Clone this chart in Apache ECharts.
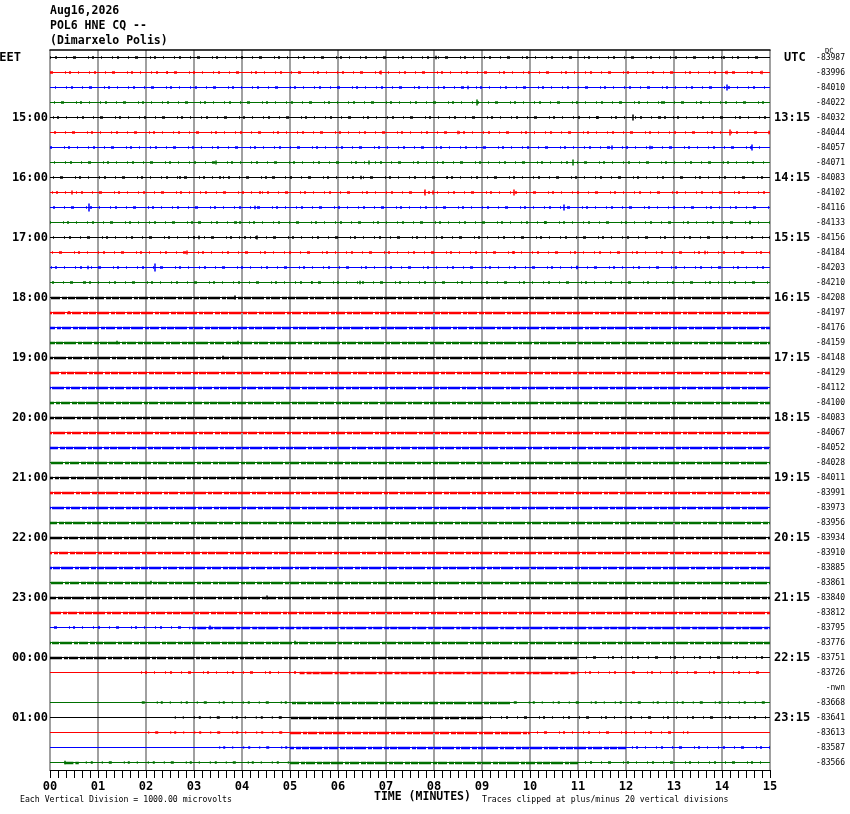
<!DOCTYPE html>
<html>
<head>
<meta charset="utf-8">
<script src="https://cdn.jsdelivr.net/npm/echarts@6/dist/echarts.min.js"></script>
<style>
  html, body { margin: 0; padding: 0; background: #ffffff; }
  #chart { width: 850px; height: 814px; }
</style>
</head>
<body>
<div id="chart"></div>
<script>
// ---------------- DATA ----------------
const headerLines = ['Aug16,2026', 'POL6 HNE CQ --', '(Dimarxelo Polis)'];
const eetLabels = ['EET', '15:00', '16:00', '17:00', '18:00', '19:00', '20:00', '21:00', '22:00', '23:00', '00:00', '01:00'];
const utcLabels = ['UTC', '13:15', '14:15', '15:15', '16:15', '17:15', '18:15', '19:15', '20:15', '21:15', '22:15', '23:15'];
const dcValues = ['-83987','-83996','-84010','-84022','-84032','-84044','-84057','-84071',
  '-84083','-84102','-84116','-84133','-84156','-84184','-84203','-84210',
  '-84208','-84197','-84176','-84159','-84148','-84129','-84112','-84100',
  '-84083','-84067','-84052','-84028','-84011','-83991','-83973','-83956',
  '-83934','-83910','-83885','-83861','-83840','-83812','-83795','-83776',
  '-83751','-83726','-nwn','-83668','-83641','-83613','-83587','-83566'];
const minuteTicks = ['00','01','02','03','04','05','06','07','08','09','10','11','12','13','14','15'];
const missingRows = [42];
// noise segments per trace: [startMinute, endMinute, level(1 sparse, 2 dense)]
const noiseSegments = [
  [[0,15,1]], [[0,15,1]], [[0,15,1]], [[0,15,1]],
  [[0,15,1]], [[0,15,1]], [[0,15,1]], [[0,15,1]],
  [[0,15,1]], [[0,15,1]], [[0,15,1]], [[0,15,1]],
  [[0,15,1]], [[0,15,1]], [[0,15,1]], [[0,15,1]],
  [[0,15,2]], [[0,15,2]], [[0,15,2]], [[0,15,2]],
  [[0,15,2]], [[0,15,2]], [[0,15,2]], [[0,15,2]],
  [[0,15,2]], [[0,15,2]], [[0,15,2]], [[0,15,2]],
  [[0,15,2]], [[0,15,2]], [[0,15,2]], [[0,15,2]],
  [[0,15,2]], [[0,15,2]], [[0,15,2]], [[0,15,2]],
  [[0,15,2]], [[0,15,2]], [[0,2.9,1],[2.9,15,2]], [[0,15,2]],
  [[0,11,2],[11,15,1]], [[1.75,5.2,1],[5.2,11,2],[11,15,1]], [], [[1.85,5,1],[5,9.6,2],[9.6,15,1]],
  [[2.6,5,1],[5,9,2],[9,15,1]], [[1.9,5,1],[5,10,2],[10,13.3,1]], [[3.4,5,1],[5,12,2],[12,15,1]], [[0.3,0.6,2],[0.6,5,1],[5,11,2],[11,15,1]]
];
// visible spikes: [row, minute, amplitude (fraction of trace spacing)]
const traceSpikes = [
  [0,8.03,0.12],[0,14.04,0.1],
  [1,2.43,0.1],[1,6.89,0.14],[1,14.1,0.12],[1,14.83,0.12],
  [2,8.70,0.12],[2,14.1,0.2],
  [3,8.90,0.2],[3,12.74,0.1],
  [4,11.4,0.1],[4,12.14,0.2],[4,12.8,0.1],
  [5,8.5,0.12],[5,14.17,0.2],[5,14.97,0.12],
  [6,11.7,0.14],[6,12.5,0.12],[6,14.63,0.2],
  [7,3.46,0.14],[7,6.65,0.14],[7,10.89,0.2],
  [8,2.71,0.1],[8,3.54,0.1],[8,4.65,0.1],[8,6.48,0.12],[8,8.26,0.1],
  [9,0.45,0.14],[9,4.37,0.1],[9,7.8,0.2],[9,7.97,0.14],[9,9.67,0.2],
  [10,0.8,0.27],[10,4.27,0.12],[10,10.7,0.2],
  [11,3.09,0.1],[11,3.96,0.1],[11,10.3,0.1],[11,14.58,0.12],
  [12,3.1,0.12],[12,4.06,0.1],[12,4.31,0.14],
  [13,2.85,0.14],[13,9.67,0.1],[13,13.65,0.12],
  [14,0.78,0.12],[14,2.19,0.27],[14,10.97,0.12],
  [15,0.7,0.1],[15,5.45,0.1],[15,6.46,0.12],
  [16,3.85,0.14],[17,0.4,0.1],[19,1.39,0.12],[19,3.91,0.12],[20,3.6,0.12],
  [35,2.1,0.12],[36,4.51,0.14],[38,3.32,0.14],[39,5.1,0.12],
  [47,0.3,0.12]
];

// ---------------- BUILD ----------------
const traceColors = ['#000000', '#ff0000', '#0000ff', '#007000'];
const ROWS = dcValues.length;
const mono = 'DejaVu Sans Mono';
const sparseDash = [1, 4, 2, 9, 1, 6, 3, 12, 1, 3, 2, 7, 1, 10];
const denseDash = [7, 1, 12, 2, 4, 1, 9, 2, 5, 1];

const leftCats = [], rightCats = [];
for (let k = 0; k < ROWS; k++) { leftCats.push(''); rightCats.push(''); }
eetLabels.forEach((t, i) => { leftCats[i * 4] = t; });
utcLabels.forEach((t, i) => { rightCats[i * 4] = t; });

const baseData = [], sparseData = [], denseData = [], spikeData = [];
for (let k = 0; k < ROWS; k++) {
  if (missingRows.includes(k)) continue;
  const c = traceColors[k % 4];
  const offset = (k * 23) % 57; // de-align dash pattern between rows (style only)
  baseData.push({ coords: [[0, k], [15, k]], lineStyle: { color: c } });
  noiseSegments[k].forEach(([s, e, l]) => {
    (l === 2 ? denseData : sparseData).push({
      coords: [[s, k], [e, k]],
      lineStyle: { color: c, dashOffset: offset }
    });
  });
}
traceSpikes.forEach(([k, m, a]) => {
  spikeData.push({ coords: [[m, k - a], [m, k + a]], lineStyle: { color: traceColors[k % 4] } });
});

function linesSeries(data, style) {
  return {
    type: 'lines', coordinateSystem: 'cartesian2d', xAxisIndex: 0, yAxisIndex: 0,
    polyline: false, silent: true, animation: false,
    lineStyle: Object.assign({ opacity: 1, width: 1 }, style),
    data: data
  };
}

const chart = echarts.init(document.getElementById('chart'), null, { renderer: 'canvas' });
chart.setOption({
  backgroundColor: '#ffffff',
  animation: false,
  title: [
    { text: headerLines.join('\n'), left: 50, top: 4, padding: 0,
      textStyle: { fontFamily: mono, fontWeight: 'bold', fontSize: 11.5, lineHeight: 14.8, color: '#000' } },
    { text: 'TIME (MINUTES)', left: 374, top: 791, padding: 0,
      textStyle: { fontFamily: mono, fontWeight: 'bold', fontSize: 11.5, color: '#000' } },
    { text: 'Each Vertical Division = 1000.00 microvolts', left: 20, top: 795.5, padding: 0,
      textStyle: { fontFamily: mono, fontWeight: 'normal', fontSize: 8.2, color: '#000' } },
    { text: 'Traces clipped at plus/minus 20 vertical divisions', left: 482, top: 795.5, padding: 0,
      textStyle: { fontFamily: mono, fontWeight: 'normal', fontSize: 8.2, color: '#000' } },
    { text: 'DC', left: 825, top: 48, padding: 0,
      textStyle: { fontFamily: mono, fontWeight: 'normal', fontSize: 7, color: '#000' } }
  ],
  grid: { left: 50, right: 80, top: 50, bottom: 44, outerBoundsMode: 'none', containLabel: false },
  xAxis: [
    { type: 'value', min: 0, max: 15, interval: 1, position: 'bottom',
      axisLine: { show: true, onZero: false, lineStyle: { color: '#000', width: 1 } },
      axisTick: { show: true, length: 8, lineStyle: { color: '#000', width: 1 } },
      minorTick: { show: true, splitNumber: 6, length: 8, lineStyle: { color: '#000', width: 1 } },
      axisLabel: { margin: 11, fontFamily: mono, fontWeight: 'bold', fontSize: 12, color: '#000',
        formatter: v => minuteTicks[Math.round(v)] },
      splitLine: { show: true, showMinLine: true, showMaxLine: true, lineStyle: { color: '#808080', width: 1.5 } }
    },
    { type: 'value', min: 0, max: 15, position: 'top',
      axisLine: { show: true, onZero: false, lineStyle: { color: '#000', width: 1.5 } },
      axisTick: { show: false }, axisLabel: { show: false }, splitLine: { show: false } }
  ],
  yAxis: [
    { type: 'value', min: -0.5, max: ROWS - 0.5, inverse: true, show: false },
    { type: 'category', data: leftCats, inverse: true, position: 'left',
      axisLine: { show: false }, axisTick: { show: false }, splitLine: { show: false },
      axisLabel: { interval: 0, margin: 2, fontFamily: mono, fontWeight: 'bold', fontSize: 12, color: '#000',
        formatter: v => v === eetLabels[0] ? '{e|' + v + '}' : v,
        rich: { e: { fontFamily: mono, fontWeight: 'bold', fontSize: 12, color: '#000', padding: [0, 27, 0, 0] } } }
    },
    { type: 'category', data: rightCats, inverse: true, position: 'right',
      axisLine: { show: false }, axisTick: { show: false }, splitLine: { show: false },
      axisLabel: { interval: 0, margin: 4, fontFamily: mono, fontWeight: 'bold', fontSize: 12, color: '#000',
        formatter: v => v === utcLabels[0] ? '{u|' + v + '}' : v,
        rich: { u: { fontFamily: mono, fontWeight: 'bold', fontSize: 12, color: '#000', padding: [0, 0, 0, 10] } } }
    },
    { type: 'category', data: dcValues, inverse: true, position: 'right',
      axisLine: { show: false }, axisTick: { show: false }, splitLine: { show: false },
      axisLabel: { interval: 0, margin: 75, align: 'right', fontFamily: mono, fontSize: 8, color: '#000' }
    }
  ],
  series: [
    linesSeries(baseData, { width: 1 }),
    linesSeries(sparseData, { width: 2.5, type: sparseDash }),
    linesSeries(denseData, { width: 2.4, type: denseDash }),
    linesSeries(spikeData, { width: 1.5 })
  ]
});
</script>
</body>
</html>
